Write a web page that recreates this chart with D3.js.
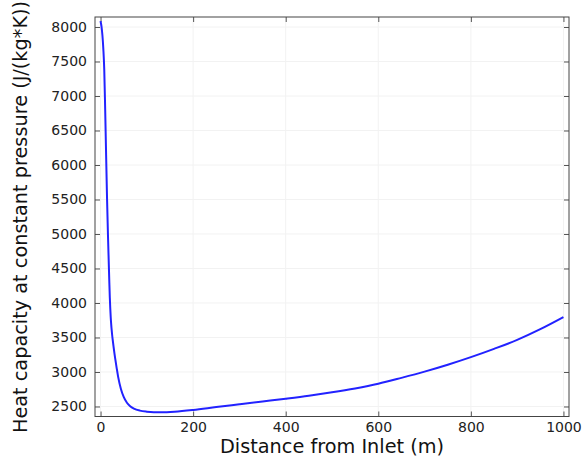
<!DOCTYPE html>
<html>
<head>
<meta charset="utf-8">
<script src="https://cdn.jsdelivr.net/npm/d3@7"></script>
<style>
body { margin: 0; background: #fff; }
svg { display: block; font-family: "DejaVu Sans", sans-serif; }
</style>
</head>
<body>
<svg id="chart" width="584" height="459"></svg>
<script>
const distance = [0, 2, 4, 6, 8, 10, 12, 14, 16, 18, 19, 20, 21, 22, 23, 24, 25, 26, 28, 30, 32, 35, 38, 44, 50, 57, 64, 72, 85, 100, 115, 130, 160, 200, 250, 300, 350, 400, 450, 500, 550, 600, 650, 700, 750, 800, 850, 900, 950, 1000];
const heatCapacity = [8085, 8010, 7880, 7680, 7380, 6800, 6150, 5520, 4990, 4520, 4290, 4080, 3920, 3790, 3690, 3610, 3540, 3480, 3370, 3270, 3180, 3050, 2930, 2755, 2640, 2555, 2505, 2470, 2440, 2425, 2418, 2417, 2425, 2450, 2492, 2532, 2572, 2612, 2655, 2705, 2762, 2830, 2915, 3005, 3105, 3215, 3335, 3465, 3620, 3795];
const xTicks = [0, 200, 400, 600, 800, 1000];
const yTicks = [2500, 3000, 3500, 4000, 4500, 5000, 5500, 6000, 6500, 7000, 7500, 8000];
const xTitle = "Distance from Inlet (m)";
const yTitle = "Heat capacity at constant pressure (J/(kg*K))";

const svg = d3.select("#chart");
const L = 95, R = 569, T = 17, B = 416.5;
const x = d3.scaleLinear().domain([-12, 1012]).range([L, R]);
const y = d3.scaleLinear().domain([2355, 8145]).range([B, T]);
const fmt = d3.format("d");

// faint grid
svg.append("g").selectAll("line").data(yTicks).join("line")
  .attr("x1", L).attr("x2", R).attr("y1", d => y(d)).attr("y2", d => y(d))
  .attr("stroke", "#f2f2f2").attr("stroke-width", 1);
svg.append("g").selectAll("line").data(xTicks).join("line")
  .attr("y1", T).attr("y2", B).attr("x1", d => x(d)).attr("x2", d => x(d))
  .attr("stroke", "#f2f2f2").attr("stroke-width", 1);

// axes with inward ticks
const tickStyle = g => {
  g.select(".domain").remove();
  g.selectAll(".tick line").attr("stroke", "#555");
  g.selectAll(".tick text").attr("fill", "#222").style("font-size", "14px").style("font-family", "DejaVu Sans, sans-serif");
};
svg.append("g").attr("transform", `translate(0,${B})`)
  .call(d3.axisBottom(x).tickValues(xTicks).tickFormat(fmt).tickSizeInner(-5).tickSizeOuter(0).tickPadding(6))
  .call(tickStyle);
svg.append("g").attr("transform", `translate(${L},0)`)
  .call(d3.axisLeft(y).tickValues(yTicks).tickFormat(fmt).tickSizeInner(-5).tickSizeOuter(0).tickPadding(8))
  .call(tickStyle);
svg.append("g").attr("transform", `translate(0,${T})`)
  .call(d3.axisTop(x).tickValues(xTicks).tickSizeInner(-5).tickSizeOuter(0).tickFormat(""))
  .call(tickStyle);
svg.append("g").attr("transform", `translate(${R},0)`)
  .call(d3.axisRight(y).tickValues(yTicks).tickSizeInner(-5).tickSizeOuter(0).tickFormat(""))
  .call(tickStyle);

// frame
svg.append("rect").attr("x", L).attr("y", T).attr("width", R - L).attr("height", B - T)
  .attr("fill", "none").attr("stroke", "#444").attr("stroke-width", 1);

// curve
const pts = distance.map((d, i) => [d, heatCapacity[i]]);
svg.append("path").datum(pts)
  .attr("fill", "none").attr("stroke", "#2222ff").attr("stroke-width", 2)
  .attr("d", d3.line().x(d => x(d[0])).y(d => y(d[1])).curve(d3.curveMonotoneX));

// titles
svg.append("text").attr("x", 332).attr("y", 453).attr("text-anchor", "middle")
  .attr("fill", "#111").style("font-size", "19.3px").text(xTitle);
svg.append("text").attr("transform", "translate(27,217) rotate(-90)").attr("text-anchor", "middle")
  .attr("fill", "#111").style("font-size", "19.3px").text(yTitle);
</script>
</body>
</html>
